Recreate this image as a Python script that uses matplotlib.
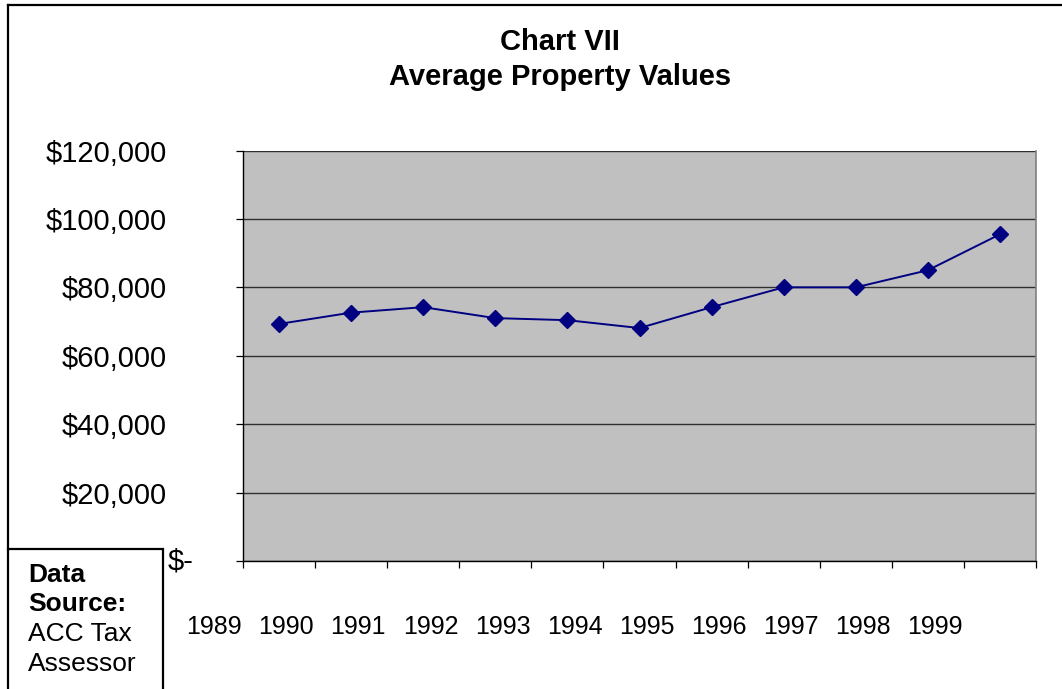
import matplotlib
matplotlib.use("Agg")
import matplotlib.pyplot as plt
from matplotlib.lines import Line2D
from matplotlib.patches import Rectangle
from matplotlib.ticker import FuncFormatter

plt.rcParams['font.family'] = ['Liberation Sans', 'DejaVu Sans']

# Data
point_years = ["1990", "1991", "1992", "1993", "1994", "1995", "1996", "1997", "1998", "1999", "2000"]
avg_values = [69300, 72600, 74200, 71000, 70400, 68100, 74200, 80000, 80000, 85000, 95500]
axis_labels = ["1989", "1990", "1991", "1992", "1993", "1994", "1995", "1996", "1997", "1998", "1999"]
y_ticks = [0, 20000, 40000, 60000, 80000, 100000, 120000]

W, H = 1062, 689
fig = plt.figure(figsize=(W / 100, H / 100), dpi=100)
fig.patch.set_facecolor('white')

def fx(px):
    return px / W

def fy(py):
    return 1 - py / H

ax = fig.add_axes([fx(243), fy(561), fx(1036) - fx(243), fy(150.5) - fy(561)])
ax.set_facecolor('#C0C0C0')

xs = list(range(len(avg_values)))
ax.plot(xs, avg_values, color='#000080', lw=1.4, marker='D', markersize=8.5,
        markerfacecolor='#000080', markeredgecolor='#000080', zorder=3)

ax.set_xlim(-0.5, len(avg_values) - 0.5)
ax.set_ylim(0, 120000)

# grid
ax.set_yticks(y_ticks)
ax.yaxis.grid(True, color='#303030', lw=1.0)
ax.set_axisbelow(True)
ax.yaxis.set_major_formatter(FuncFormatter(lambda v, p: "" if v == 0 else "${:,.0f}".format(v)))
ax.tick_params(axis='y', direction='out', length=5, width=0.9, pad=50, labelsize=21, colors='black')

# x ticks at category boundaries, no labels
ax.set_xticks([i - 0.5 for i in range(len(avg_values) + 1)])
ax.set_xticklabels([])
ax.tick_params(axis='x', direction='out', length=5, width=0.9, colors='black')

for s in ['left', 'bottom']:
    ax.spines[s].set_color('black')
    ax.spines[s].set_linewidth(1.0)
ax.spines['top'].set_visible(False)
ax.spines['right'].set_color('#808080')
ax.spines['right'].set_linewidth(1.2)

# "$-" zero label
fig.text(fx(168), fy(562), "$-", fontsize=21, ha='left', va='center')

# category labels (offset as in the reference)
for k, lab in enumerate(axis_labels):
    ax.text(k - 0.9, -0.161, lab, transform=ax.get_xaxis_transform(),
            ha='center', va='center', fontsize=18, clip_on=False)

# title
fig.text(fx(560), fy(42), "Chart VII", fontsize=21, fontweight='bold', ha='center', va='center')
fig.text(fx(560), fy(77), "Average Property Values", fontsize=21, fontweight='bold', ha='center', va='center')

# figure border (top and left)
fig.add_artist(Line2D([fx(8), 1.0], [fy(5), fy(5)], transform=fig.transFigure, color='black', lw=1.6))
fig.add_artist(Line2D([fx(8), fx(8)], [fy(5), fy(549)], transform=fig.transFigure, color='black', lw=1.6))

# data source box
fig.add_artist(Rectangle((fx(8), fy(700)), fx(163) - fx(8), fy(549) - fy(700),
                         transform=fig.transFigure, fill=False, edgecolor='black', lw=1.6))
fig.text(fx(28), fy(575), "Data", fontsize=19, fontweight='bold', ha='left', va='center')
fig.text(fx(28), fy(604), "Source:", fontsize=19, fontweight='bold', ha='left', va='center')
fig.text(fx(28), fy(634), "ACC Tax", fontsize=19, ha='left', va='center')
fig.text(fx(28), fy(664), "Assessor", fontsize=19, ha='left', va='center')

fig.savefig("out.png", dpi=100)
